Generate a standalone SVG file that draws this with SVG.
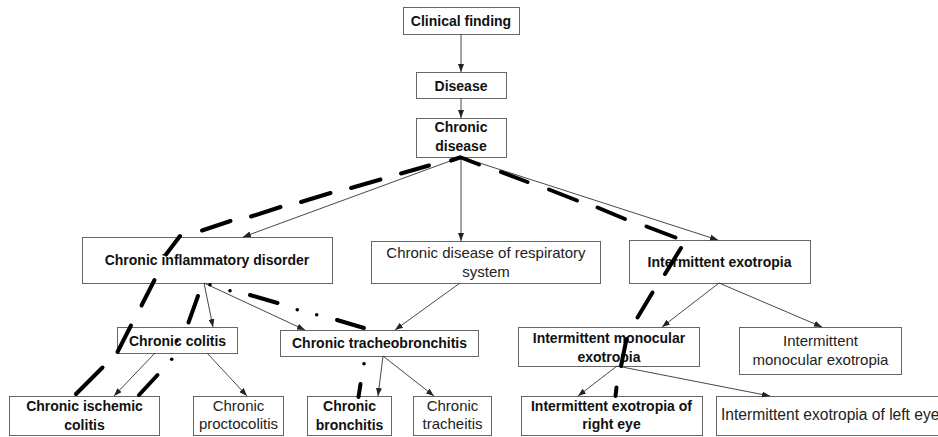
<svg xmlns="http://www.w3.org/2000/svg" width="938" height="437" viewBox="0 0 938 437">
<defs>
<marker id="ah" markerUnits="userSpaceOnUse" markerWidth="8" markerHeight="6" refX="8" refY="3" orient="auto">
<path d="M0,0 L8,3 L0,6 z" fill="#222"/>
</marker>
<style>
.box{fill:#fff;stroke:#666;stroke-width:1}
.b{font-family:"Liberation Sans",Arial,sans-serif;font-weight:bold;font-size:14px;fill:#111;text-anchor:middle}
.r{font-family:"Liberation Sans",Arial,sans-serif;font-size:15px;fill:#222;text-anchor:middle}
.arr{stroke:#333;stroke-width:0.9;fill:none;marker-end:url(#ah)}
.thick{stroke:#000;stroke-width:4;stroke-linecap:round;fill:none}
.dot{fill:#000}
</style>
</defs>
<rect width="938" height="437" fill="#fff"/>
<g id="nodes">
<g id="n1"><rect class="box" x="403.5" y="7.5" width="116" height="27"/><text class="b" x="461" y="26">Clinical finding</text></g>
<g id="n2"><rect class="box" x="416.5" y="72.5" width="90" height="26"/><text class="b" x="461" y="90.5">Disease</text></g>
<g id="n3"><rect class="box" x="416.5" y="118.5" width="90" height="39"/><text class="b" x="461" y="132">Chronic</text><text class="b" x="461" y="151">disease</text></g>
<g id="n4"><rect class="box" x="82.5" y="237.5" width="250" height="46"/><text class="b" x="207" y="264.5">Chronic inflammatory disorder</text></g>
<g id="n5"><rect class="box" x="371.5" y="241.5" width="229" height="42"/><text class="r" x="486" y="257.5">Chronic disease of respiratory</text><text class="r" x="486" y="276.5">system</text></g>
<g id="n6"><rect class="box" x="629.5" y="240.5" width="181" height="43"/><text class="b" x="719.5" y="266.5">Intermittent exotropia</text></g>
<g id="n7"><rect class="box" x="117.5" y="327.5" width="120" height="26"/><text class="b" x="177.5" y="345.5">Chronic colitis</text></g>
<g id="n8"><rect class="box" x="280.5" y="330.5" width="198" height="26"/><text class="b" x="379.5" y="347.5">Chronic tracheobronchitis</text></g>
<g id="n9"><rect class="box" x="518.5" y="327.5" width="181" height="39"/><text class="b" x="609" y="342.5">Intermittent monocular</text><text class="b" x="609" y="361.5">exotropia</text></g>
<g id="n10"><rect class="box" x="739.5" y="327.5" width="162" height="47"/><text class="r" x="820.5" y="345.5">Intermittent</text><text class="r" x="820.5" y="365">monocular exotropia</text></g>
<g id="n11"><rect class="box" x="9.5" y="396.5" width="150" height="39"/><text class="b" x="84.5" y="410.5">Chronic ischemic</text><text class="b" x="84.5" y="429.5">colitis</text></g>
<g id="n12"><rect class="box" x="193.5" y="396.5" width="90" height="39"/><text class="r" x="238.5" y="410.5">Chronic</text><text class="r" x="238.5" y="429">proctocolitis</text></g>
<g id="n13"><rect class="box" x="307.5" y="396.5" width="84" height="39"/><text class="b" x="349.5" y="410.5">Chronic</text><text class="b" x="349.5" y="429.5">bronchitis</text></g>
<g id="n14"><rect class="box" x="413.5" y="396.5" width="78" height="39"/><text class="r" x="452.5" y="410.5">Chronic</text><text class="r" x="452.5" y="429">tracheitis</text></g>
<g id="n15"><rect class="box" x="521.5" y="396.5" width="181" height="39"/><text class="b" x="611.5" y="410.5">Intermittent exotropia of</text><text class="b" x="611.5" y="428.5">right eye</text></g>
<g id="n16"><rect class="box" x="716.5" y="396.5" width="230" height="39"/><text class="r" x="721" y="420" style="text-anchor:start;font-size:15.6px">Intermittent exotropia of left eye</text></g>
</g>
<g id="connectors">
<line class="arr" x1="461" y1="34" x2="461" y2="72"/>
<line class="arr" x1="461" y1="98" x2="461" y2="118"/>
<line class="arr" x1="461" y1="157" x2="243" y2="237"/>
<line class="arr" x1="461" y1="157" x2="461" y2="241"/>
<line class="arr" x1="461" y1="157" x2="718" y2="240"/>
<line class="arr" x1="204" y1="283" x2="213" y2="327"/>
<line class="arr" x1="204" y1="283" x2="305" y2="330"/>
<line class="arr" x1="460" y1="283" x2="395" y2="330"/>
<line class="arr" x1="155" y1="353" x2="114" y2="396"/>
<line class="arr" x1="207" y1="353" x2="247" y2="396"/>
<line class="arr" x1="383" y1="356" x2="378" y2="396"/>
<line class="arr" x1="383" y1="356" x2="434" y2="396"/>
<line class="arr" x1="719" y1="283" x2="662" y2="327"/>
<line class="arr" x1="719" y1="283" x2="822" y2="327"/>
<line class="arr" x1="617" y1="366" x2="578" y2="396"/>
<line class="arr" x1="617" y1="366" x2="770" y2="396"/>
<g id="path-left">
<line class="thick" x1="460" y1="157.5" x2="451" y2="160.5"/>
<line class="thick" x1="429" y1="165.5" x2="401" y2="173.5"/>
<line class="thick" x1="380.5" y1="179.5" x2="351" y2="188"/>
<line class="thick" x1="330.5" y1="193" x2="301" y2="202"/>
<line class="thick" x1="280.5" y1="207" x2="251" y2="216.5"/>
<line class="thick" x1="230.5" y1="221" x2="202" y2="230.5"/>
<line class="thick" x1="180" y1="236" x2="166" y2="254.5"/>
<line class="thick" x1="154.5" y1="280" x2="141.5" y2="305.5"/>
<line class="thick" x1="131" y1="325.5" x2="117.5" y2="352"/>
<line class="thick" x1="102.5" y1="367.5" x2="76" y2="394"/>
</g>
<g id="path-right">
<line class="thick" x1="461" y1="157.5" x2="479" y2="164.5"/>
<line class="thick" x1="501" y1="172" x2="527.5" y2="182"/>
<line class="thick" x1="549" y1="189.5" x2="577" y2="200.5"/>
<line class="thick" x1="597.5" y1="207.5" x2="625" y2="219"/>
<line class="thick" x1="646.5" y1="226.5" x2="675.5" y2="237.5"/>
<line class="thick" x1="681" y1="248" x2="665" y2="274"/>
<line class="thick" x1="652.5" y1="292.5" x2="637.5" y2="317.5"/>
<line class="thick" x1="626.5" y1="339" x2="621" y2="366"/>
<line class="thick" x1="616.5" y1="387.5" x2="615.5" y2="396"/>
</g>
<g id="path-tracheo">
<circle class="dot" cx="210" cy="284.7" r="1.8"/>
<circle class="dot" cx="230" cy="290.7" r="1.8"/>
<line class="thick" x1="250" y1="295" x2="277.5" y2="303"/>
<circle class="dot" cx="297.3" cy="309.7" r="1.8"/>
<circle class="dot" cx="316.7" cy="314.7" r="1.8"/>
<line class="thick" x1="337" y1="320" x2="364" y2="328"/>
<circle class="dot" cx="364" cy="363.7" r="1.8"/>
<line class="thick" x1="360.5" y1="384" x2="358.5" y2="397"/>
</g>
<g id="path-colitis">
<line class="thick" x1="198" y1="296" x2="188.5" y2="322.5"/>
<circle class="dot" cx="177" cy="341" r="1.8"/>
<circle class="dot" cx="171.7" cy="359.3" r="1.8"/>
<line class="thick" x1="157.5" y1="375" x2="139" y2="395"/>
</g>
</g>
</svg>
